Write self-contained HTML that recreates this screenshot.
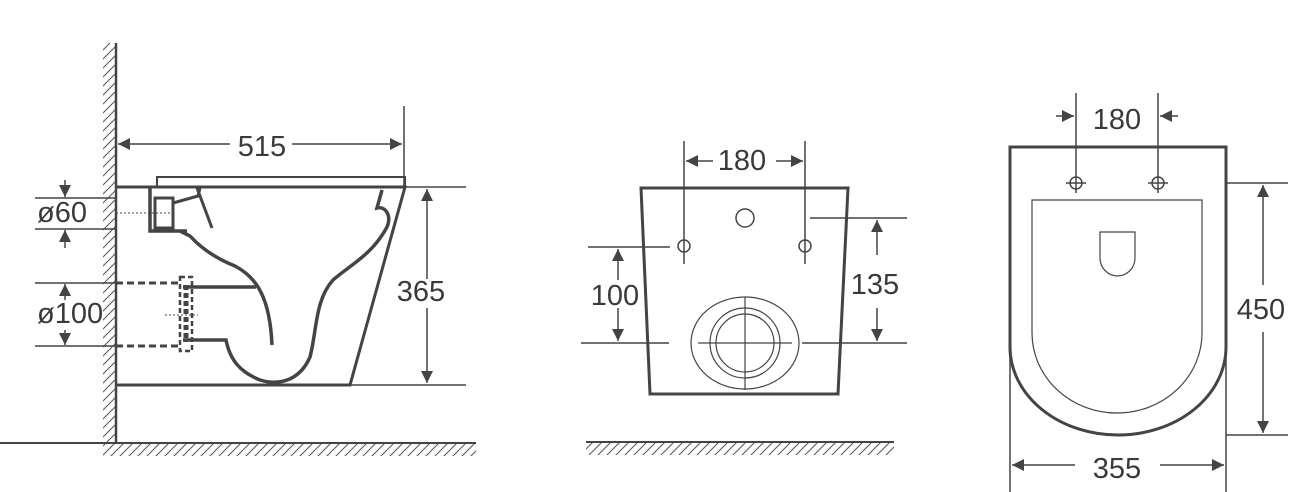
<!DOCTYPE html>
<html><head><meta charset="utf-8"><style>
html,body{margin:0;padding:0;background:#fff;}
svg{display:block;}
text{font-family:"Liberation Sans",sans-serif;fill:#3a3a3a;font-size:29px;}
</style></head><body>
<svg width="1294" height="492" viewBox="0 0 1294 492" xmlns="http://www.w3.org/2000/svg">
<defs>
<pattern id="hv" width="9" height="9" patternUnits="userSpaceOnUse"><path d="M-2,11 L11,-2 M-2,2 L2,-2 M7,11 L11,7" stroke="#555" stroke-width="1"/></pattern>
<marker id="ar" viewBox="0 0 10 10" refX="10" refY="5" markerWidth="12" markerHeight="12" markerUnits="userSpaceOnUse" orient="auto"><path d="M0,0 L10,5 L0,10 z" fill="#444"/></marker>
</defs>
<g stroke="#444" fill="none" stroke-width="1.5">
<rect x="103" y="43" width="13" height="399" fill="url(#hv)" stroke="none"/>
<line x1="116" y1="43" x2="116" y2="443" stroke-width="2.5"/>
<rect x="103" y="443" width="373" height="13" fill="url(#hv)" stroke="none"/>
<line x1="0" y1="443" x2="476" y2="443" stroke-width="2"/>
<line x1="116" y1="187" x2="466" y2="187"/>
<line x1="116" y1="385" x2="466" y2="385"/>
<line x1="404" y1="106" x2="404" y2="187"/>
<line x1="230" y1="144" x2="118" y2="144" marker-end="url(#ar)"/>
<line x1="292" y1="144" x2="402" y2="144" marker-end="url(#ar)"/>
<rect x="157" y="177" width="248" height="10" stroke-width="2"/>
<path d="M116,187 L405,187 L350,385 L116,385" stroke-width="3"/>
<line x1="35" y1="198" x2="116" y2="198"/><line x1="35" y1="229" x2="116" y2="229"/>
<line x1="65" y1="180" x2="65" y2="197" marker-end="url(#ar)"/>
<line x1="65" y1="248" x2="65" y2="230" marker-end="url(#ar)"/>
<line x1="116" y1="213" x2="172" y2="213" stroke-dasharray="2,2" stroke-width="1"/>
<line x1="35" y1="283" x2="116" y2="283"/><line x1="35" y1="346" x2="116" y2="346"/>
<line x1="65" y1="300" x2="65" y2="284" marker-end="url(#ar)"/>
<line x1="65" y1="330" x2="65" y2="345" marker-end="url(#ar)"/>
<line x1="165" y1="315" x2="198" y2="315" stroke-dasharray="2,2" stroke-width="1"/>
<path d="M150,187 L150,231 L187,231" stroke-width="3.5"/>
<rect x="155" y="198" width="18" height="30" stroke-width="3"/>
<path d="M173,203 L198,196 L200,188 M197,188 L212,228" stroke-width="3"/>
<path d="M180,231 L190,236 C200,247 215,258 235,266 C258,278 270,300 272,345" stroke-width="3.5"/>
<path d="M183,287 L256,287" stroke-width="3.5"/>
<path d="M183,340 L226,340 C230,360 240,372 260,380 C280,386 300,380 310,357 C317,330 315,300 333,280 C350,265 372,255 387,227 C392,215 385,206 377,208 L382,190" stroke-width="3.5"/>
<path d="M116,283 L180,283 M116,346 L180,346" stroke-width="3" stroke-dasharray="7,4"/>
<rect x="180" y="277" width="12" height="74" stroke-width="2.5" stroke-dasharray="5,3"/>
<line x1="186" y1="285" x2="186" y2="342" stroke-width="5" stroke-dasharray="5,3"/>
<line x1="427" y1="279" x2="427" y2="189" marker-end="url(#ar)"/>
<line x1="427" y1="308" x2="427" y2="383" marker-end="url(#ar)"/>
<path d="M641,188 L848,188 L838,394 L650,394 Z" stroke-width="3"/>
<circle cx="745" cy="218" r="9"/>
<circle cx="684" cy="246" r="6"/><circle cx="805" cy="246" r="6"/>
<line x1="684" y1="141" x2="684" y2="264"/><line x1="805" y1="141" x2="805" y2="264"/>
<line x1="713" y1="161" x2="686" y2="161" marker-end="url(#ar)"/>
<line x1="776" y1="161" x2="803" y2="161" marker-end="url(#ar)"/>
<line x1="588" y1="247" x2="670" y2="247"/><line x1="581" y1="343" x2="669" y2="343"/>
<line x1="618" y1="280" x2="618" y2="249" marker-end="url(#ar)"/>
<line x1="618" y1="308" x2="618" y2="341" marker-end="url(#ar)"/>
<line x1="810" y1="218" x2="907" y2="218"/><line x1="802" y1="343" x2="907" y2="343"/>
<line x1="877" y1="255" x2="877" y2="220" marker-end="url(#ar)"/>
<line x1="877" y1="308" x2="877" y2="341" marker-end="url(#ar)"/>
<ellipse cx="745" cy="343" rx="54" ry="46" stroke-width="1.2"/>
<circle cx="745" cy="343" r="35" stroke-width="1.2"/><circle cx="745" cy="343" r="29" stroke-width="1.2"/>
<line x1="698" y1="343" x2="792" y2="343" stroke-width="1.2"/><line x1="745" y1="297" x2="745" y2="390" stroke-width="1.2"/>
<rect x="586" y="443" width="308" height="12" fill="url(#hv)" stroke="none"/>
<line x1="586" y1="442" x2="894" y2="442" stroke-width="2"/>
<path d="M1010,147 L1226,147 L1226,347 A108,88 0 0 1 1010,347 Z" stroke-width="3"/>
<path d="M1032,200 L1202,200 L1202,333 A85,80 0 0 1 1032,333 Z" stroke-width="1.2"/>
<path d="M1100,232 L1135,232 L1135,258 A17.5,18 0 0 1 1100,258 Z" stroke-width="1.2"/>
<circle cx="1076" cy="183" r="6"/><circle cx="1158" cy="183" r="6"/>
<line x1="1066" y1="183" x2="1086" y2="183"/><line x1="1148" y1="183" x2="1168" y2="183"/>
<line x1="1076" y1="93" x2="1076" y2="193"/><line x1="1158" y1="93" x2="1158" y2="193"/>
<line x1="1056" y1="116" x2="1074" y2="116" marker-end="url(#ar)"/>
<line x1="1178" y1="116" x2="1160" y2="116" marker-end="url(#ar)"/>
<line x1="1226" y1="183" x2="1288" y2="183"/><line x1="1226" y1="435" x2="1288" y2="435"/>
<line x1="1263" y1="285" x2="1263" y2="185" marker-end="url(#ar)"/>
<line x1="1263" y1="332" x2="1263" y2="433" marker-end="url(#ar)"/>
<line x1="1010" y1="347" x2="1010" y2="492"/><line x1="1226" y1="347" x2="1226" y2="492"/>
<line x1="1075" y1="465" x2="1012" y2="465" marker-end="url(#ar)"/>
<line x1="1160" y1="465" x2="1224" y2="465" marker-end="url(#ar)"/>
</g>
<text x="262" y="156" text-anchor="middle">515</text>
<text x="37" y="222">ø60</text>
<text x="37" y="323">ø100</text>
<text x="421" y="301" text-anchor="middle">365</text>
<text x="742" y="170" text-anchor="middle">180</text>
<text x="615" y="305" text-anchor="middle">100</text>
<text x="875" y="294" text-anchor="middle">135</text>
<text x="1117" y="129" text-anchor="middle">180</text>
<text x="1261" y="319" text-anchor="middle">450</text>
<text x="1117" y="478" text-anchor="middle">355</text>
</svg>
</body></html>
